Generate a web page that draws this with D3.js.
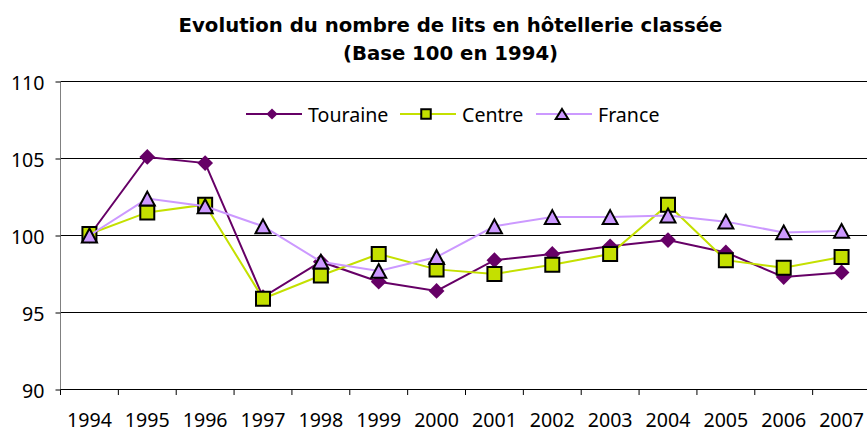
<!DOCTYPE html>
<html>
<head>
<meta charset="utf-8">
<script src="https://cdn.jsdelivr.net/npm/d3@7"></script>
<style>
  body { margin: 0; background: #fff; }
  svg { display: block; }
  .title { font-family: "DejaVu Sans", sans-serif; font-weight: bold; font-size: 19.7px; }
  .lbl { font-family: "Noto Sans", sans-serif; font-size: 19.6px; fill: #000; }
</style>
</head>
<body>
<svg id="chart"></svg>
<script>
const years = ['1994','1995','1996','1997','1998','1999','2000','2001','2002','2003','2004','2005','2006','2007'];
const touraine = [100, 105.1, 104.7, 96.0, 98.3, 97.0, 96.4, 98.4, 98.8, 99.3, 99.7, 98.9, 97.3, 97.6];
const centre   = [100.1, 101.5, 102.0, 95.9, 97.4, 98.8, 97.8, 97.5, 98.1, 98.8, 102.0, 98.4, 97.9, 98.6];
const france   = [100, 102.4, 101.9, 100.6, 98.3, 97.7, 98.6, 100.6, 101.2, 101.2, 101.3, 100.9, 100.2, 100.3];
const yTicks = [90, 95, 100, 105, 110];
const seriesNames = ['Touraine', 'Centre', 'France'];

const width = 867, height = 429;
const margin = {top: 81.5, left: 60.5, bottom: 389.5, right: 870.5};

const svg = d3.select('#chart')
  .attr('width', width)
  .attr('height', height);

const x = d3.scaleBand()
  .domain(years)
  .range([margin.left, margin.right]);

const y = d3.scaleLinear()
  .domain([90, 110])
  .range([margin.bottom, margin.top]);

const cx = d => x(d) + x.bandwidth() / 2;

// title
const title = svg.append('text')
  .attr('class', 'title')
  .attr('text-anchor', 'middle');
title.append('tspan').attr('x', 450.5).attr('y', 31.5).text('Evolution du nombre de lits en hôtellerie classée');
title.append('tspan').attr('x', 450.5).attr('y', 60).text('(Base 100 en 1994)');

// gridlines
svg.append('g')
  .selectAll('line')
  .data(yTicks.filter(v => v > 90))
  .enter().append('line')
  .attr('x1', margin.left)
  .attr('x2', width)
  .attr('y1', d => y(d))
  .attr('y2', d => y(d))
  .attr('stroke', '#000')
  .attr('stroke-width', 1);

// y axis
const yAxis = svg.append('g')
  .attr('transform', `translate(${margin.left},0)`)
  .call(d3.axisLeft(y).tickValues(yTicks).tickSize(5).tickPadding(11));
yAxis.select('.domain').attr('stroke', '#808080').attr('d', `M0,${margin.top}V${margin.bottom}`);
yAxis.selectAll('.tick line').attr('stroke', '#000');
yAxis.selectAll('.tick text').attr('class', 'lbl').attr('dy', '0.42em');
yAxis.attr('font-family', null).attr('font-size', null);

// x axis
const xAxis = svg.append('g')
  .attr('transform', `translate(0,${margin.bottom})`)
  .call(d3.axisBottom(x).tickSize(0).tickPadding(23.5));
xAxis.select('.domain').attr('stroke', '#000').attr('d', `M${margin.left},0H${width}`);
xAxis.selectAll('.tick text').attr('class', 'lbl');
xAxis.attr('font-family', null).attr('font-size', null);

svg.append('g')
  .selectAll('line')
  .data(years.concat(['end']))
  .enter().append('line')
  .attr('x1', d => d === 'end' ? margin.right : x(d))
  .attr('x2', d => d === 'end' ? margin.right : x(d))
  .attr('y1', margin.bottom)
  .attr('y2', margin.bottom + 5.5)
  .attr('stroke', '#000');

// markers
const diamond = r => `M0,${-r}L${r},0L0,${r}L${-r},0Z`;
const square = s => `M${-s/2},${-s/2}H${s/2}V${s/2}H${-s/2}Z`;
const triangle = (w, h) => `M0,${-h/2}L${w/2},${h/2}L${-w/2},${h/2}Z`;

const series = [
  {name: 'Touraine', values: touraine, line: '#660066', fill: '#660066', stroke: 'none',
   mark: diamond(7.9), legendMark: diamond(5.6)},
  {name: 'Centre', values: centre, line: '#c4e000', fill: '#c4e000', stroke: '#000',
   mark: square(14), legendMark: square(9.5)},
  {name: 'France', values: france, line: '#cc99ff', fill: '#cc99ff', stroke: '#000',
   mark: triangle(15, 13.8), legendMark: triangle(12.5, 10)}
];

const line = d3.line()
  .x((d, i) => cx(years[i]))
  .y(d => y(d));

series.forEach(s => {
  const g = svg.append('g');
  g.append('path')
    .datum(s.values)
    .attr('d', line)
    .attr('fill', 'none')
    .attr('stroke', s.line)
    .attr('stroke-width', 2);
  g.selectAll('.mk')
    .data(s.values)
    .enter().append('path')
    .attr('class', 'mk')
    .attr('transform', (d, i) => `translate(${cx(years[i])},${y(d)})`)
    .attr('d', s.mark)
    .attr('fill', s.fill)
    .attr('stroke', s.stroke)
    .attr('stroke-width', 2)
    .attr('stroke-linejoin', 'miter');
});

// legend
const legendX = [246, 400, 536];
const legend = svg.append('g');
series.forEach((s, i) => {
  const lg = legend.append('g').attr('transform', `translate(${legendX[i]},114)`);
  lg.append('line')
    .attr('x1', 0).attr('x2', 56)
    .attr('stroke', s.line)
    .attr('stroke-width', 2);
  lg.append('path')
    .attr('transform', 'translate(26,0)')
    .attr('d', s.legendMark)
    .attr('fill', s.fill)
    .attr('stroke', s.stroke)
    .attr('stroke-width', 2);
  lg.append('text')
    .attr('class', 'lbl')
    .attr('x', 62)
    .attr('y', 7.5)
    .text(seriesNames[i]);
});
</script>
</body>
</html>
